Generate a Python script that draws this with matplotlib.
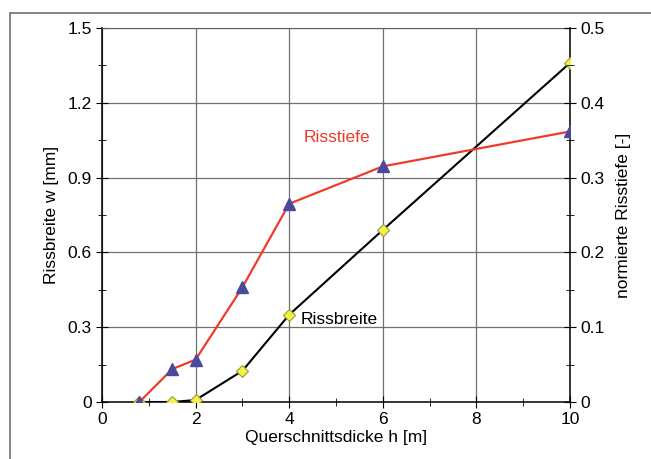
import numpy as np
import matplotlib
matplotlib.use("Agg")
import matplotlib.pyplot as plt
from matplotlib.ticker import MultipleLocator, FuncFormatter
from matplotlib.patches import Rectangle

plt.rcParams['font.family'] = ['Liberation Sans', 'DejaVu Sans']

# Risstiefe (red line, blue triangles), read on left scale [mm-equivalent]
h_tiefe = [0.8, 1.5, 2, 3, 4, 6, 10]
tiefe = [0.0, 0.132, 0.17, 0.46, 0.795, 0.945, 1.085]

# Rissbreite (black line, yellow diamonds)
h_breite = [0.8, 1.5, 2, 3, 4, 6, 10]
breite = [0.0, 0.0, 0.008, 0.125, 0.35, 0.69, 1.36]

FS = 12.5

fig = plt.figure(figsize=(6.51, 4.59), dpi=100)
fig.patches.append(Rectangle((10/651, -0.1), 1.1, 1 - 13/459 + 0.1, transform=fig.transFigure,
                             fill=False, edgecolor='#707070', linewidth=1.2))
ax = fig.add_axes([102/651, 1 - 402/459, (570 - 102)/651, (402 - 28)/459])

ax.plot(h_breite, breite, color='black', linewidth=1.5, zorder=3,
        marker='D', markersize=6, markerfacecolor='#f2f24a', markeredgecolor='#9a9a30',
        markeredgewidth=0.8)
ax.plot(h_tiefe, tiefe, color='#ee3b2c', linewidth=1.6, zorder=4,
        marker='^', markersize=8, markerfacecolor='#4a4a9c', markeredgecolor='#4a4a9c')

ax.text(4.3, 1.06, 'Risstiefe', color='#ee3b2c', fontsize=FS, va='center')
ax.text(4.25, 0.33, 'Rissbreite', color='black', fontsize=FS, va='center')

ax.set_xlim(0, 10)
ax.set_ylim(0, 1.5)
ax.xaxis.set_major_locator(MultipleLocator(2))
ax.xaxis.set_minor_locator(MultipleLocator(1))
ax.yaxis.set_major_locator(MultipleLocator(0.3))
ax.yaxis.set_minor_locator(MultipleLocator(0.15))
fmt = FuncFormatter(lambda v, p: '%g' % round(v, 3))
ax.xaxis.set_major_formatter(fmt)
ax.yaxis.set_major_formatter(fmt)
ax.grid(True, which='major', color='#707070', linewidth=0.9)
ax.tick_params(which='both', direction='inout', labelsize=FS, colors='black')
ax.tick_params(which='major', length=8)
ax.tick_params(which='minor', length=6)
ax.tick_params(axis='y', which='both', right=False)
ax.tick_params(axis='x', which='both', top=False)
ax.spines['top'].set_color('#606060')
for s in ['left', 'right', 'bottom']:
    ax.spines[s].set_linewidth(1.1)

ax.set_xlabel('Querschnittsdicke h [m]', fontsize=FS, labelpad=2)
ax.set_ylabel('Rissbreite w [mm]', fontsize=FS, labelpad=6)

ax2 = ax.twinx()
ax2.set_ylim(0, 0.5)
ax2.yaxis.set_major_locator(MultipleLocator(0.1))
ax2.yaxis.set_minor_locator(MultipleLocator(0.05))
ax2.yaxis.set_major_formatter(fmt)
ax2.tick_params(which='both', direction='inout', labelsize=FS)
ax2.tick_params(which='major', length=8)
ax2.tick_params(which='minor', length=6)
ax2.set_ylabel('normierte Risstiefe [-]', fontsize=FS, labelpad=8)
for s in ax2.spines.values():
    s.set_visible(False)

fig.savefig('out.png', dpi=100)
